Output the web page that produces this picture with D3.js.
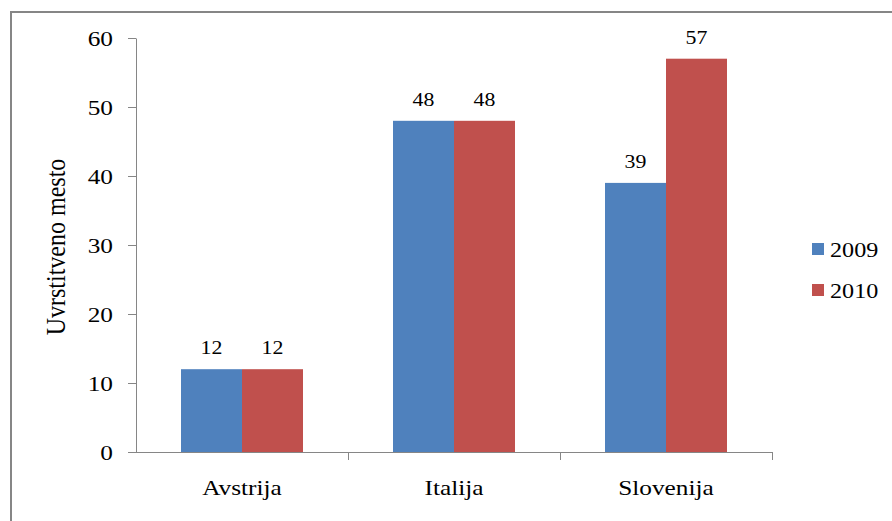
<!DOCTYPE html>
<html lang="en">
<head>
<meta charset="utf-8">
<title>Uvrstitveno mesto</title>
<script src="https://cdn.jsdelivr.net/npm/d3@7"></script>
<style>
  body { margin: 0; background: #fff; }
</style>
</head>
<body>
<script>
var categories = ["Avstrija", "Italija", "Slovenija"];
var seriesNames = ["2009", "2010"];
var values2009 = [12, 48, 39];
var values2010 = [12, 48, 57];
var yTicks = [0, 10, 20, 30, 40, 50, 60];
var colors = ["#4f81bd", "#c0504d"];

var w = 892, h = 521;
var plotLeft = 136, plotRight = 772, plotTop = 38, plotBottom = 452;
var serif = "'Liberation Serif'";
var stretch = 1.15;   // the source picture is a bit wider than tall
var axisColor = "#868686";

var svg = d3.select("body").append("svg")
    .attr("width", w)
    .attr("height", h);

// outer frame
svg.append("rect")
    .attr("x", 11).attr("y", 12)
    .attr("width", w + 10).attr("height", h + 10)
    .attr("fill", "none")
    .attr("stroke", axisColor)
    .attr("stroke-width", 2);

var xScale = d3.scaleBand()
    .domain(categories)
    .range([plotLeft, plotRight]);

var xInner = d3.scaleBand()
    .domain(seriesNames)
    .range([45, xScale.bandwidth() - 45]);

var yScale = d3.scaleLinear()
    .domain([0, 60])
    .range([plotBottom, plotTop]);

var data = categories.map(function(c, i) {
    return { cat: c, vals: [values2009[i], values2010[i]] };
});

var groups = svg.selectAll(".grp")
    .data(data)
    .enter().append("g")
    .attr("transform", function(d) { return "translate(" + xScale(d.cat) + ",0)"; });

groups.selectAll("rect")
    .data(function(d) { return d.vals.map(function(v, j) { return { s: seriesNames[j], v: v, j: j }; }); })
    .enter().append("rect")
    .attr("x", function(d) { return xInner(d.s); })
    .attr("y", function(d) { return yScale(d.v); })
    .attr("width", xInner.bandwidth())
    .attr("height", function(d) { return plotBottom - yScale(d.v); })
    .attr("fill", function(d) { return colors[d.j]; });

// value labels
groups.selectAll(".lbl")
    .data(function(d) { return d.vals.map(function(v, j) { return { s: seriesNames[j], v: v }; }); })
    .enter().append("text")
    .attr("transform", function(d) {
        return "translate(" + (xInner(d.s) + xInner.bandwidth() / 2) + "," + (yScale(d.v) - 15) + ") scale(" + stretch + ",1)";
    })
    .attr("text-anchor", "middle")
    .style("font-family", serif)
    .style("font-size", "19px")
    .style("fill", "#000")
    .text(function(d) { return d.v; });

// y axis
var yAxis = d3.axisLeft(yScale).tickValues(yTicks).tickSize(8).tickPadding(12).tickSizeOuter(0);
var gy = svg.append("g")
    .attr("transform", "translate(" + plotLeft + ",0)")
    .call(yAxis);
gy.selectAll("path, line").attr("stroke", axisColor);
gy.selectAll("text")
    .attr("dy", "0.34em")
    .attr("transform", "scale(" + stretch + ",1)")
    .style("font-family", serif)
    .style("font-size", "22px")
    .style("fill", "#000");

// x axis
var xAxis = d3.axisBottom(xScale).tickSize(0).tickSizeOuter(0);
var gx = svg.append("g")
    .attr("transform", "translate(0," + plotBottom + ")")
    .call(xAxis);
gx.select(".domain")
    .attr("d", "M" + (plotLeft - 8) + ",0.5H" + plotRight)
    .attr("stroke", axisColor);
gx.selectAll("text")
    .attr("y", 43)
    .attr("dy", 0)
    .attr("transform", "scale(" + stretch + ",1)")
    .style("font-family", serif)
    .style("font-size", "22px")
    .style("fill", "#000");

// category separator ticks
gx.selectAll(".sep")
    .data(categories)
    .enter().append("line")
    .attr("x1", function(d) { return xScale(d) + xScale.bandwidth() + 0.5; })
    .attr("x2", function(d) { return xScale(d) + xScale.bandwidth() + 0.5; })
    .attr("y1", 0).attr("y2", 8)
    .attr("stroke", axisColor);

// y title
svg.append("text")
    .attr("transform", "translate(65," + 247 + ") rotate(-90) scale(1," + stretch + ")")
    .attr("text-anchor", "middle")
    .style("font-family", serif)
    .style("font-size", "24px")
    .style("fill", "#000")
    .text("Uvrstitveno mesto");

// legend
var legend = svg.selectAll(".leg")
    .data(seriesNames)
    .enter().append("g")
    .attr("transform", function(d, i) { return "translate(812," + (243 + i * 41) + ")"; });

legend.append("rect")
    .attr("width", 12).attr("height", 12)
    .attr("fill", function(d, i) { return colors[i]; });

legend.append("text")
    .attr("transform", "translate(18,14) scale(" + stretch + ",1)")
    .style("font-family", serif)
    .style("font-size", "21px")
    .style("fill", "#000")
    .text(function(d) { return d; });
</script>
</body>
</html>
